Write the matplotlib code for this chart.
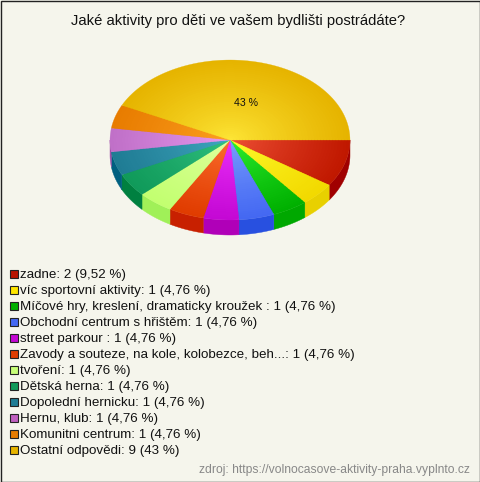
import numpy as np
import matplotlib
matplotlib.use('Agg')
import matplotlib.pyplot as plt
from matplotlib.patches import Polygon, Rectangle

plt.rcParams['font.family'] = ['Liberation Sans', 'DejaVu Sans']

# ---- Data ----
TITLE = 'Jaké aktivity pro děti ve vašem bydlišti postrádáte?'
SOURCE = 'zdroj: https://volnocasove-aktivity-praha.vyplnto.cz'
LABELS = ['zadne: 2 (9,52 %)', 'víc sportovní aktivity: 1 (4,76 %)',
          'Míčové hry, kreslení, dramaticky kroužek : 1 (4,76 %)',
          'Obchodní centrum s hřištěm: 1 (4,76 %)', 'street parkour : 1 (4,76 %)',
          'Zavody a souteze, na kole, kolobezce, beh...: 1 (4,76 %)', 'tvoření: 1 (4,76 %)',
          'Dětská herna: 1 (4,76 %)', 'Dopolední hernicku: 1 (4,76 %)', 'Hernu, klub: 1 (4,76 %)',
          'Komunitni centrum: 1 (4,76 %)', 'Ostatní odpovědi: 9 (43 %)']
VALUES = [2, 1, 1, 1, 1, 1, 1, 1, 1, 1, 1, 9]

# ---- Style ----
EDGE = ['#C01800', '#F2D900', '#00B000', '#4468F2', '#C408D4', '#E03C00',
        '#C2FF70', '#109A5A', '#1F7C94', '#C070C8', '#E87C00', '#E6B400']
CENTER = ['#F2553A', '#FFFF30', '#34F534', '#80A4FF', '#F034FF', '#FF7434',
          '#E4FFA4', '#34C484', '#44ACC4', '#EC9CF4', '#FFA424', '#FFE93A']
SIDE = ['#A00000', '#E8D000', '#00A800', '#2850E0', '#B000B8', '#C82000',
        '#A0F058', '#008040', '#006080', '#A050A8', '#C06000', '#C09000']
SWATCH = ['#B81400', '#FFE600', '#00B000', '#4468F2', '#C408D4', '#E03C00',
          '#C8FF78', '#109A5A', '#1F7C94', '#C060C0', '#E87C00', '#E6B400']
BG = '#F5F5EC'
CX, CY, RX, RY, DEPTH = 230, 140, 120, 80, 15
RINGS = 40

fig = plt.figure(figsize=(4.8, 4.82), dpi=100, facecolor=BG)
ax = fig.add_axes([0, 0, 1, 1])
ax.set_xlim(0, 480)
ax.set_ylim(482, 0)
ax.axis('off')
ax.add_patch(Rectangle((0.5, 0.5), 479, 481, facecolor=BG, edgecolor='#222222', lw=1))


def mix(c1, c2, t):
    a, b = np.array(matplotlib.colors.to_rgb(c1)), np.array(matplotlib.colors.to_rgb(c2))
    return a + (b - a) * t


edges = np.concatenate([[0], np.cumsum(VALUES)]) / sum(VALUES) * 2 * np.pi

# side wall, only the front half shows
for i in range(len(VALUES)):
    t0, t1 = edges[i], min(edges[i + 1], np.pi)
    if t0 >= np.pi:
        continue
    t = np.linspace(t0, t1, 40)
    x = CX + RX * np.cos(t)
    y = CY + RY * np.sin(t)
    pts = np.r_[np.c_[x, y], np.c_[x, y + DEPTH][::-1]]
    ax.add_patch(Polygon(pts, facecolor=SIDE[i], edgecolor=SIDE[i], lw=0.3))

# top face: stacked wedges outer to inner give the radial gradient
for r in np.linspace(1, 0.03, RINGS):
    for i in range(len(VALUES)):
        t = np.linspace(edges[i], edges[i + 1], 80)
        pts = np.r_[[[CX, CY]], np.c_[CX + r * RX * np.cos(t), CY + r * RY * np.sin(t)]]
        col = mix(CENTER[i], EDGE[i], r ** 0.75)
        ax.add_patch(Polygon(pts, facecolor=col, edgecolor=col, lw=0.2))

ax.text(245.5, 102.5, '43 %', fontsize=7.6, ha='center', va='center', color='#111111')
ax.text(238, 20.5, TITLE, fontsize=10.6, ha='center', va='center', color='#111111')

# legend
for i, lab in enumerate(LABELS):
    y = 274 + 16 * i
    ax.add_patch(Rectangle((9.5, y - 4), 8, 8, facecolor=SWATCH[i], edgecolor='#222222', lw=0.8))
    ax.text(20, y + 1, lab, fontsize=9.6, ha='left', va='center', color='#111111')

ax.text(470, 470, SOURCE, fontsize=8.7, ha='right', va='center', color='#888888')

fig.savefig('out.png', dpi=100, facecolor=BG)
